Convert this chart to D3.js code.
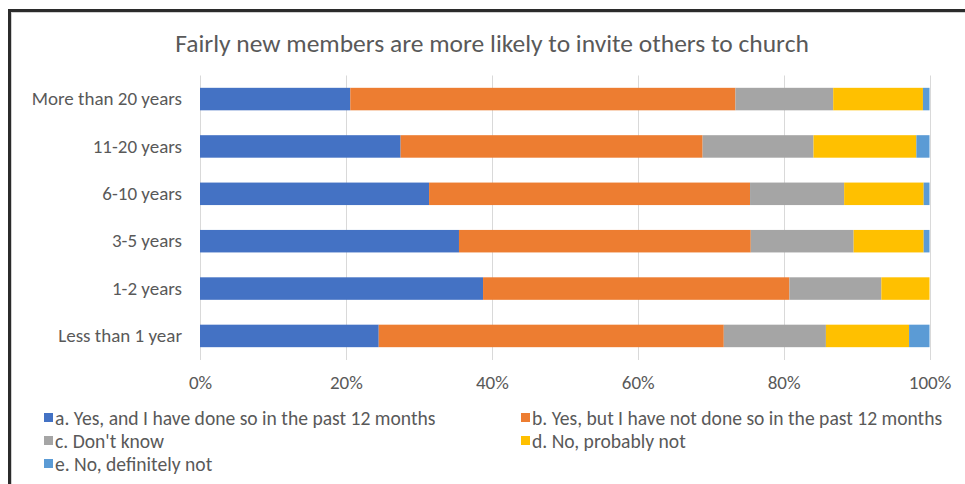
<!DOCTYPE html>
<html>
<head>
<meta charset="utf-8">
<script src="https://cdn.jsdelivr.net/npm/d3@7"></script>
<style>
  html, body { margin: 0; padding: 0; background: #fff; }
  svg { display: block; }
  text { font-family: Carlito, Calibri, Lato, "Open Sans", sans-serif; fill: #595959; }
</style>
</head>
<body>
<svg id="chart" width="965" height="484"></svg>
<script>
// Tenure groups, top to bottom
const categories = ["More than 20 years", "11-20 years", "6-10 years", "3-5 years", "1-2 years", "Less than 1 year"];

// Answer options (stack order, left to right)
const seriesNames = [
  "a. Yes, and I have done so in the past 12 months",
  "b. Yes, but I have not done so in the past 12 months",
  "c. Don't know",
  "d. No, probably not",
  "e. No, definitely not"
];

// Percent of each tenure group, per answer
const yesDone    = [20.6, 27.5, 31.4, 35.5, 38.8, 24.5];
const yesNotDone = [52.8, 41.4, 44.0, 40.0, 42.0, 47.3];
const dontKnow   = [13.4, 15.2, 12.9, 14.1, 12.6, 14.0];
const probNot    = [12.3, 14.1, 10.9,  9.6,  6.6, 11.4];
const defNot     = [ 0.9,  1.8,  0.8,  0.8,  0.0,  2.8];

const tickLabels = ["0%", "20%", "40%", "60%", "80%", "100%"];
const colors = ["#4472C4", "#ED7D31", "#A5A5A5", "#FFC000", "#5B9BD5"];

const seriesValues = [yesDone, yesNotDone, dontKnow, probNot, defNot];
const rows = categories.map((c, i) => {
  const r = { category: c };
  seriesNames.forEach((s, k) => { r[s] = seriesValues[k][i]; });
  return r;
});

const FONT = "Carlito, Calibri, Lato, 'Open Sans', sans-serif";
const svg = d3.select("#chart");

// Frame lines along the top and left edges
svg.append("line").attr("x1", 9).attr("x2", 965).attr("y1", 10.5).attr("y2", 10.5)
  .attr("stroke", "#2b2b2b").attr("stroke-width", 3);
svg.append("line").attr("x1", 9.5).attr("x2", 9.5).attr("y1", 9).attr("y2", 484)
  .attr("stroke", "#2b2b2b").attr("stroke-width", 3);
svg.append("line").attr("x1", 11).attr("x2", 965).attr("y1", 12.5).attr("y2", 12.5)
  .attr("stroke", "#d0d0d0").attr("stroke-width", 1);
svg.append("line").attr("x1", 11.5).attr("x2", 11.5).attr("y1", 12).attr("y2", 484)
  .attr("stroke", "#d0d0d0").attr("stroke-width", 1);

// Title
svg.append("text")
  .attr("x", 492).attr("y", 52)
  .attr("text-anchor", "middle")
  .style("font-size", "25.5px")
  .text("Fairly new members are more likely to invite others to church");

const x = d3.scaleLinear().domain([0, 100]).range([200, 929.5]);
const y = d3.scaleBand().domain(categories).range([75.5, 359.5]).paddingInner(0.525).paddingOuter(0.26);

// Vertical gridlines
const xTicks = d3.range(0, 101, 20);
svg.append("g").selectAll("line").data(xTicks).join("line")
  .attr("x1", d => Math.round(x(d)) + 0.5).attr("x2", d => Math.round(x(d)) + 0.5)
  .attr("y1", 75.5).attr("y2", 360)
  .attr("stroke", "#d9d9d9").attr("stroke-width", 1);

// Stacked bars
const stack = d3.stack().keys(seriesNames);
const layers = stack(rows);
svg.append("g").selectAll("g").data(layers).join("g")
  .attr("fill", (d, i) => colors[i])
  .selectAll("rect").data(d => d).join("rect")
  .attr("x", d => x(d[0]))
  .attr("width", d => Math.max(0, x(d[1]) - x(d[0])))
  .attr("y", d => y(d.data.category))
  .attr("height", y.bandwidth());

// X axis labels
const xAxis = d3.axisBottom(x).tickValues(xTicks)
  .tickFormat((d, i) => tickLabels[i]).tickSize(0).tickPadding(0);
const gx = svg.append("g").attr("transform", "translate(0,375)").call(xAxis);
gx.select(".domain").remove();
gx.selectAll("text").style("font-size", "19px").attr("fill", "#595959")
  .style("font-family", FONT);

// Category labels
const yAxis = d3.axisLeft(y).tickSize(0).tickPadding(0);
const gy = svg.append("g").attr("transform", "translate(182,0)").call(yAxis);
gy.select(".domain").remove();
gy.selectAll("text").style("font-size", "19px").attr("fill", "#595959")
  .style("font-family", FONT);

// Legend
const legendPos = [[44, 418], [521, 418], [44, 441], [521, 441], [44, 464]];
const legend = svg.append("g").selectAll("g").data(seriesNames).join("g")
  .attr("transform", (d, i) => `translate(${legendPos[i][0]},${legendPos[i][1]})`);
legend.append("rect").attr("x", 0).attr("y", -5).attr("width", 9).attr("height", 9)
  .attr("fill", (d, i) => colors[i]);
legend.append("text").attr("x", 11).attr("y", 0).attr("dy", "0.35em")
  .style("font-size", "19.6px").text(d => d);
</script>
</body>
</html>
